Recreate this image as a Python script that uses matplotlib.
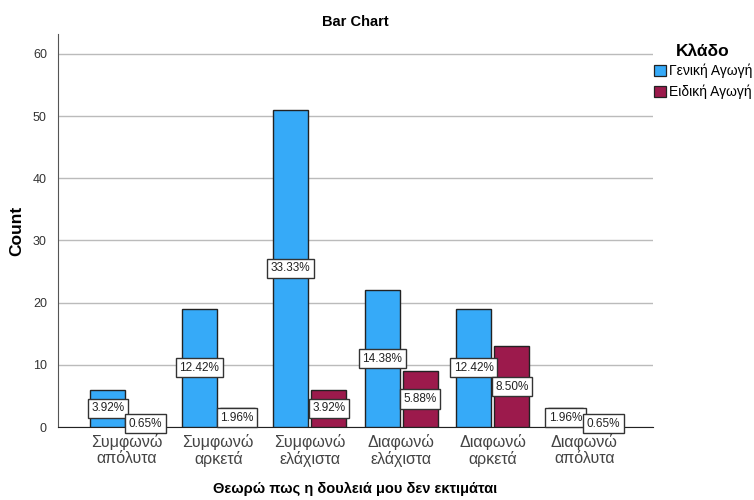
import numpy as np
import matplotlib.pyplot as plt
from matplotlib.patches import Patch

plt.rcParams['font.family'] = ['Liberation Sans', 'DejaVu Sans']

categories = ['Συμφωνώ\nαπόλυτα', 'Συμφωνώ\nαρκετά', 'Συμφωνώ\nελάχιστα',
              'Διαφωνώ\nελάχιστα', 'Διαφωνώ\nαρκετά', 'Διαφωνώ\nαπόλυτα']
general = [6, 19, 51, 22, 19, 3]
special = [1, 3, 6, 9, 13, 1]
groups = ['Γενική Αγωγή', 'Ειδική Αγωγή']
colors = ['#36AAF8', '#9C1A4C']

total = sum(general) + sum(special)

fig = plt.figure(figsize=(7.54, 5.0), dpi=100)
ax = fig.add_axes([58 / 754, 1 - 427 / 500, 595 / 754, 393 / 500])

x = np.arange(len(categories))
w = 0.385
off = 0.208
for vals, col, sign in [(general, colors[0], -1), (special, colors[1], 1)]:
    bars = ax.bar(x + sign * off, vals, width=w, color=col, edgecolor='#222222',
                  linewidth=1.0, zorder=3)
    for b, v in zip(bars, vals):
        ax.text(b.get_x() + b.get_width() / 2, v / 2, f'{v / total * 100:.2f}%',
                ha='center', va='center', fontsize=8.5, color='#222222', zorder=4,
                bbox=dict(boxstyle='square,pad=0.3', fc='white', ec='#333333', lw=1.0))

ax.set_xlim(-0.75, len(categories) - 0.25)
ax.set_ylim(0, 63.2)
ax.set_yticks(range(0, 61, 10))
ax.set_xticks(x)
ax.set_xticklabels(categories, fontsize=11.5, color='#444444', linespacing=1.05)
ax.tick_params(axis='x', length=0, pad=5)
ax.tick_params(axis='y', length=0, labelsize=9, labelcolor='#333333', pad=8)
ax.yaxis.grid(True, color='#BBBBBB', linewidth=1.0, zorder=0)
ax.set_axisbelow(True)
for s in ['top', 'right']:
    ax.spines[s].set_visible(False)
ax.spines['left'].set_color('#555555')
ax.spines['bottom'].set_color('#222222')

ax.set_ylabel('Count', fontsize=12.5, fontweight='bold', labelpad=6)
ax.set_xlabel('Θεωρώ πως η δουλειά μου δεν εκτιμάται', fontsize=10.5,
              fontweight='bold', labelpad=11)
ax.set_title('Bar Chart', fontsize=10.5, fontweight='bold', pad=6)

# legend: title placed separately, entries run off the right edge
fig.text(703 / 754, 1 - 52 / 500, 'Κλάδο', ha='center', va='center',
         fontsize=12.5, fontweight='bold')
handles = [Patch(facecolor=c, edgecolor='#222222', linewidth=0.9) for c in colors]
fig.legend(handles, groups, loc='upper left', bbox_to_anchor=(654 / 754, 1 - 64 / 500),
           frameon=False, fontsize=10, handlelength=0.85, handleheight=0.85,
           handletextpad=0.25, labelspacing=0.45, borderaxespad=0, borderpad=0)

fig.savefig('out.png', dpi=100)
